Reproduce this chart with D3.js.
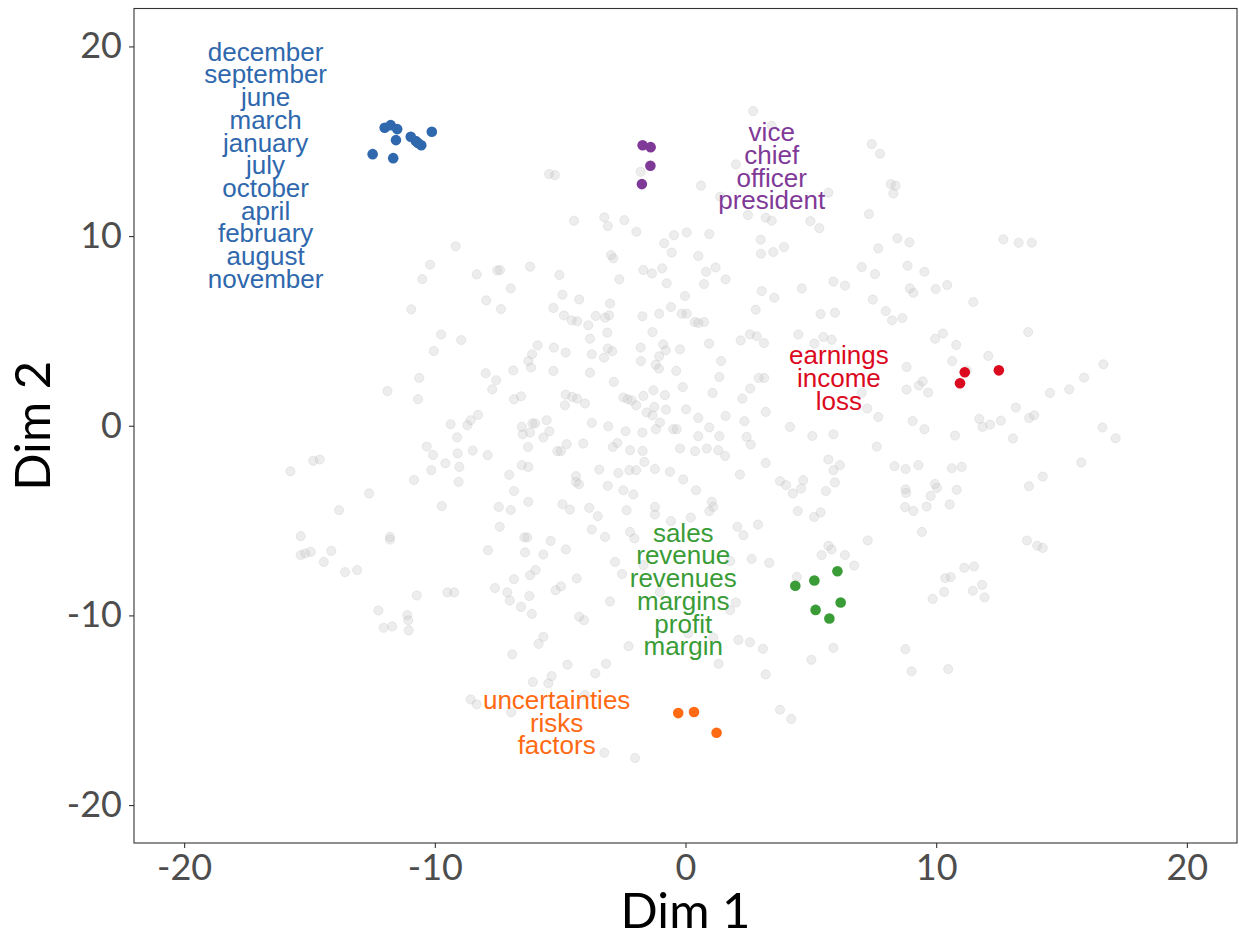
<!DOCTYPE html>
<html>
<head>
<meta charset="utf-8">
<script src="https://cdn.jsdelivr.net/npm/d3@7"></script>
<style>
  html, body { margin: 0; padding: 0; background: #fff; }
</style>
</head>
<body>
<div id="chart"></div>
<script>
// axis ticks
const xTicks = [-20, -10, 0, 10, 20];
const yTicks = [-20, -10, 0, 10, 20];

// background words (grey) in Dim 1 / Dim 2 units
const otherWords = [
  [-9.17,9.46],[-10.19,8.49],[-8.33,7.98],[-7.51,8.19],[-10.50,7.73],[-6.97,7.24],
  [2.70,16.59],[3.44,15.82],[7.43,14.85],[7.76,14.34],[-5.44,13.27],[-5.21,13.21],[-1.79,13.39],[2.01,13.78],
  [0.62,12.66],[5.70,12.29],[1.38,12.08],[-4.45,10.81],[-3.24,10.99],[-3.10,10.53],[-2.44,10.84],[-1.96,10.23],
  [-0.46,10.05],[0.05,10.19],[0.95,10.11],[2.49,11.11],[3.20,10.97],[3.44,10.81],[4.98,10.79],[5.34,10.42],
  [7.32,11.16],[-0.85,9.62],[-0.55,9.13],[0.51,8.95],[3.00,9.81],[3.01,9.07],[3.50,9.16],[3.93,9.42],[7.69,9.35],
  [-2.97,9.00],[-2.88,8.83],[-6.20,8.39],[-5.03,7.95],[-7.40,8.21],[-2.64,7.72],[-1.68,8.21],[-1.34,8.03],
  [-0.93,8.30],[-0.75,7.51],[0.74,7.47],[0.82,8.12],[1.20,8.35],[1.60,7.72],[4.64,7.24],[5.90,7.60],[6.36,7.39],
  [7.03,8.37],[7.56,8.00],[3.04,7.10],
  [8.19,12.74],[8.38,12.66],[8.29,12.25],[8.45,9.88],[8.93,9.67],[12.68,9.83],[13.29,9.65],[13.81,9.65],
  [8.86,8.44],[9.53,8.12],[8.95,7.24],[9.09,7.01],[9.98,7.21],[10.44,7.42],
  [7.47,6.65],[7.99,6.05],[8.24,5.56],[8.65,5.68],[11.48,6.52],[13.67,4.94],[9.96,4.59],[10.27,4.86],[10.80,4.26],
  [12.08,3.68],[10.64,3.41],[8.82,3.10],[11.22,2.92],[16.67,3.24],[15.90,2.54],[15.31,1.92],[14.54,1.73],
  [9.46,2.34],[9.31,2.12],[9.68,1.75],[8.82,1.91],[7.03,1.73],[7.25,0.91],[7.69,0.46],[13.18,0.96],[11.72,0.36],
  [11.85,-0.06],[12.15,0.06],[12.58,0.27],[13.71,0.41],[13.91,0.55],[16.63,-0.09],[17.16,-0.66],[9.06,0.25],
  [9.53,-0.18],[10.75,-0.52],[13.06,-0.67],[7.63,-1.10],[8.34,-2.13],[8.78,-2.28],[9.29,-2.08],[10.62,-2.24],
  [11.02,-2.17],[15.79,-1.94],[14.25,-2.68],[13.70,-3.19],[8.78,-3.35],[8.80,-3.54],[9.95,-3.07],[10.03,-3.28],
  [9.78,-3.70],[10.82,-3.38],[8.76,-4.29],[9.09,-4.49],[9.62,-4.26],[10.54,-4.15],[9.43,-5.60],[7.27,-6.05],
  [13.62,-6.05],[14.03,-6.33],[14.25,-6.44],[11.12,-7.49],[11.51,-7.42],
  [10.36,-8.03],[10.58,-7.98],[10.32,-8.76],[9.86,-9.13],[11.46,-8.70],[11.83,-8.39],[11.93,-9.05],
  [8.77,-11.78],[9.02,-12.95],[10.48,-12.83],
  [-7.95,6.61],[-7.36,6.15],[-10.94,6.14],[-9.75,4.81],[-8.95,4.52],[-10.04,3.94],[-7.97,2.77],[-7.55,2.40],
  [-7.71,1.92],[-6.87,2.92],[-10.62,2.52],[-11.89,1.83],[-10.67,1.40],[-6.84,1.40],[-8.28,0.57],[-8.57,0.29],
  [-8.70,0.03],[-9.37,0.08],[-9.11,-0.61],[-10.32,-1.10],[-10.07,-1.54],[-9.09,-1.46],[-8.49,-1.31],[-7.89,-1.55],
  [-9.58,-1.98],[-9.02,-2.17],[-10.14,-2.34],[-9.05,-2.96],[-10.83,-2.86],[-7.03,-2.59],[-6.84,-3.44],
  [-14.85,-1.85],[-14.59,-1.78],[-15.76,-2.40],[-12.62,-3.57],[-13.82,-4.45],[-9.72,-4.23],[-7.45,-4.28],
  [-6.97,-4.44],[-7.41,-5.33],[-15.35,-5.82],[-11.79,-5.86],[-11.79,-6.00],[-15.35,-6.82],[-15.17,-6.73],
  [-14.95,-6.65],[-14.13,-6.60],[-14.43,-7.18],[-7.88,-6.56],[-13.10,-7.61],[-13.58,-7.72],
  [-10.72,-8.95],[-9.50,-8.79],[-9.23,-8.79],[-7.60,-8.56],[-7.11,-8.79],[-7.01,-9.21],[-6.84,-8.09],
  [-12.25,-9.74],[-11.10,-9.98],[-11.06,-10.26],[-11.04,-10.79],[-12.04,-10.65],[-11.70,-10.58],[-6.91,-12.05],
  [-8.57,-14.43],[-8.33,-14.69],[-6.95,-15.11],
  [-6.20,-7.88],[-5.98,-7.61],[-6.23,-8.98],[-6.56,-9.55],[-6.13,-9.92],[-5.18,-8.67],[-4.97,-8.47],[-4.34,-8.05],
  [-2.53,-7.82],[-2.81,-7.18],[-3.01,-9.26],[-4.24,-10.07],[-4.05,-10.25],[-5.67,-11.13],[-5.86,-11.50],
  [-4.71,-12.60],[-3.60,-13.06],[-3.17,-12.55],[-5.34,-13.20],[-5.47,-13.58],[-6.09,-13.51],[-2.27,-11.62],
  [-1.02,-8.76],[0.11,-10.95],[1.11,-11.16],[1.32,-12.55],[2.11,-11.29],[2.57,-11.42],[3.09,-11.76],[3.20,-13.11],
  [1.78,-7.14],[2.01,-9.32],[1.78,-9.72],[4.44,-7.97],[5.90,-11.71],[5.02,-12.34],[3.77,-14.97],[4.22,-15.46],
  [6.73,-7.37],[3.34,-7.23],[2.64,-7.02],[-4.01,-14.20],[-3.24,-17.24],[-2.01,-17.52],[-1.68,-7.35],
  [-4.91,6.91],[-4.24,6.66],[-5.27,6.21],[-3.01,6.44],[-0.02,6.84],[-0.58,6.26],[-0.15,5.91],[0.05,5.91],
  [-1.05,5.91],[-1.72,5.77],[3.54,6.75],[2.80,6.12],[5.39,5.89],[5.96,5.96],[-4.85,5.82],[-4.54,5.56],
  [-4.32,5.51],[-3.88,5.30],[-3.58,5.79],[-3.21,5.70],[-3.05,5.82],[0.37,5.47],[0.51,5.42],[0.74,5.47],
  [-3.12,4.91],[-1.32,4.94],[-3.81,4.59],[-5.25,4.12],[-5.90,4.24],[-6.12,3.77],[-4.78,3.86],[-3.74,3.77],
  [-3.25,3.59],[-3.10,4.07],[-2.92,3.93],[-1.79,4.12],[-0.89,4.29],[-0.79,3.98],[-0.22,4.03],[-1.05,3.66],
  [-1.78,3.41],[-1.19,3.22],[-1.06,3.01],[0.94,4.33],[2.20,4.50],[2.57,4.82],[2.84,4.72],[3.13,4.36],
  [4.50,4.81],[5.14,4.33],[5.50,4.68],[5.83,4.54],[-6.27,3.41],[-6.16,3.07],[-5.27,2.89],[-3.81,2.80],
  [-2.86,2.31],[-0.37,2.89],[1.42,3.41],[1.35,2.57],[2.92,2.52],[3.14,2.52],[-0.11,2.04],[-1.28,1.87],
  [-1.68,1.57],[-0.82,1.61],[1.08,1.73],[2.27,1.43],[2.58,1.96],[-6.56,1.55],[-4.78,1.64],[-4.52,1.52],
  [-4.32,1.43],[-4.01,1.17],[-4.81,1.08],[-2.48,1.49],[-2.31,1.40],[-2.15,1.34],[-1.97,1.08],[-1.55,0.70],
  [-1.24,0.99],[-1.32,0.55],[-0.78,0.85],[0.02,0.87],[0.51,0.41],[1.60,0.52],[2.35,0.24],[3.20,0.73],
  [4.17,-0.06],[5.06,-0.54],[5.90,-0.45],[-5.54,0.29],[-6.00,0.12],[-6.11,0.12],[-6.53,-0.06],[-6.49,-0.45],
  [-6.20,-0.36],[-5.43,-0.29],[-5.67,-0.62],[-3.74,0.15],[-3.08,-0.03],[-2.39,-0.29],[-1.72,-0.36],[-1.18,-0.18],
  [-1.02,0.17],[-0.49,-0.18],[-0.35,-0.18],[0.95,-0.09],[0.51,-0.55],[1.35,-0.55],[2.44,-0.59],[2.60,-0.99],
  [-6.28,-1.12],[-4.74,-0.97],[-5.11,-1.34],[-4.97,-1.34],[-4.08,-0.94],[-2.90,-1.12],[-2.72,-0.91],[-2.21,-1.29],
  [-1.71,-1.33],[-0.22,-1.20],[0.38,-1.34],[0.85,-1.20],[1.31,-1.29],[1.58,-1.59],[-1.64,-1.91],[3.20,-1.96],
  [5.70,-1.78],[5.90,-2.34],[6.16,-2.08],[-6.53,-2.08],[-6.27,-2.17],[-3.44,-2.31],[-2.68,-2.49],[-2.24,-2.34],
  [-1.97,-2.34],[-1.22,-2.28],[-0.62,-2.43],[2.17,-2.57],[-4.37,-2.66],[-4.37,-2.96],[-4.25,-3.08],[-0.09,-2.83],
  [3.77,-2.92],[4.01,-3.13],[4.28,-3.57],[4.61,-3.31],[4.70,-2.87],[5.96,-2.99],[5.60,-3.44],[-3.10,-3.17],
  [-2.48,-3.40],[-2.08,-3.62],[0.42,-3.40],[-6.27,-4.01],[-4.91,-4.14],[-4.61,-4.42],[-3.84,-4.33],[-3.50,-4.77],
  [-2.35,-4.45],[-1.22,-4.28],[-1.22,-4.68],[1.05,-4.01],[1.11,-4.28],[0.95,-4.50],[0.21,-4.84],[-0.58,-5.03],
  [4.48,-4.50],[5.13,-4.81],[5.39,-4.57],[2.07,-5.33],[2.31,-5.77],[2.89,-5.21],[-3.74,-5.47],[-2.21,-5.60],
  [-2.04,-5.94],[-3.21,-5.86],[-6.43,-5.89],[-6.31,-5.89],[-5.38,-6.07],[-6.40,-6.68],[-5.67,-6.79],[-4.77,-6.52],
  [5.70,-6.33],[5.83,-6.52],[5.43,-6.82],[6.36,-6.82]
];

// highlighted clusters
const monthWords = ["december", "september", "june", "march", "january", "july",
  "october", "april", "february", "august", "november"];
const monthPoints = [[-12.48,14.32],[-12.00,15.71],[-11.76,15.85],[-11.50,15.64],[-11.55,15.06],
  [-10.96,15.24],[-10.76,15.01],[-10.54,14.79],[-10.12,15.50],[-11.66,14.11],[-10.67,14.91]];
const monthLabelAt = [-16.75, 13.72];

const titleWords = ["vice", "chief", "officer", "president"];
const titlePoints = [[-1.71,14.79],[-1.39,14.69],[-1.40,13.71],[-1.74,12.74]];
const titleLabelAt = [3.44, 13.67];

const earningsWords = ["earnings", "income", "loss"];
const earningsPoints = [[11.14,2.82],[10.95,2.24],[12.50,2.92]];
const earningsLabelAt = [6.12, 2.50];

const salesWords = ["sales", "revenue", "revenues", "margins", "profit", "margin"];
const salesPoints = [[4.38,-8.44],[5.14,-8.16],[6.06,-7.67],[6.19,-9.32],[5.19,-9.71],[5.74,-10.16]];
const salesLabelAt = [-0.09, -8.65];

const riskWords = ["uncertainties", "risks", "factors"];
const riskPoints = [[-0.29,-15.15],[0.34,-15.09],[1.24,-16.19]];
const riskLabelAt = [-5.14, -15.67];

const clusters = [
  { words: monthWords, points: monthPoints, at: monthLabelAt, color: "#2f68ad" },
  { words: titleWords, points: titlePoints, at: titleLabelAt, color: "#7f3a98" },
  { words: earningsWords, points: earningsPoints, at: earningsLabelAt, color: "#db0a1e" },
  { words: salesWords, points: salesPoints, at: salesLabelAt, color: "#3a9c37" },
  { words: riskWords, points: riskPoints, at: riskLabelAt, color: "#ff6a12" },
];

const width = 1239, height = 938;
const panel = { left: 134, right: 1237, top: 8.5, bottom: 843 };
const tickFont = "Lato, 'Open Sans', sans-serif";

const svg = d3.select("#chart")
  .append("svg")
  .attr("width", width)
  .attr("height", height)
  .style("display", "block")
  .style("background", "#fff");

const x = d3.scaleLinear().domain([-22, 22]).range([panel.left, panel.right]);
const y = d3.scaleLinear().domain([-22, 22]).range([panel.bottom, panel.top]);

// background points
svg.append("g")
  .selectAll("circle")
  .data(otherWords)
  .join("circle")
  .attr("cx", d => x(d[0]))
  .attr("cy", d => y(d[1]))
  .attr("r", 4.6)
  .attr("fill", "#bebebe")
  .attr("fill-opacity", 0.28)
  .attr("stroke", "#bebebe")
  .attr("stroke-opacity", 0.28)
  .attr("stroke-width", 1);

// coloured clusters
const groups = svg.append("g")
  .selectAll("g")
  .data(clusters)
  .join("g");

groups.selectAll("circle")
  .data(c => c.points.map(p => ({ p, color: c.color })))
  .join("circle")
  .attr("cx", d => x(d.p[0]))
  .attr("cy", d => y(d.p[1]))
  .attr("r", 5.3)
  .attr("fill", d => d.color);

// multi-line labels, centred on their anchor (tight line spacing as in the original)
const lineGap = 22.7;
groups.append("text")
  .attr("fill", c => c.color)
  .attr("text-anchor", "middle")
  .style("font-family", "'Liberation Sans', Arial, sans-serif")
  .style("font-size", "26px")
  .each(function (c) {
    const t = d3.select(this);
    const n = c.words.length;
    c.words.forEach((w, i) => {
      t.append("tspan")
        .attr("x", x(c.at[0]))
        .attr("y", y(c.at[1]) + (i - (n - 1) / 2) * lineGap + 8.7)
        .text(w);
    });
  });

// panel border
svg.append("rect")
  .attr("x", panel.left)
  .attr("y", panel.top)
  .attr("width", panel.right - panel.left)
  .attr("height", panel.bottom - panel.top)
  .attr("fill", "none")
  .attr("stroke", "#333")
  .attr("stroke-width", 1.1);

// axes
const xAxis = svg.append("g")
  .attr("transform", `translate(0,${panel.bottom})`)
  .call(d3.axisBottom(x).tickValues(xTicks).tickSize(5).tickPadding(6).tickFormat(d => String(d)));

const yAxis = svg.append("g")
  .attr("transform", `translate(${panel.left},0)`)
  .call(d3.axisLeft(y).tickValues(yTicks).tickSize(5).tickPadding(7).tickFormat(d => String(d)));

[xAxis, yAxis].forEach(a => {
  a.select(".domain").remove();
  a.selectAll(".tick line").attr("stroke", "#333").attr("stroke-width", 1.1);
  a.selectAll(".tick text")
    .attr("fill", "#4d4d4d")
    .style("font-family", tickFont)
    .style("font-size", "36px");
});

// axis titles
svg.append("text")
  .attr("x", x(0))
  .attr("y", 928)
  .attr("text-anchor", "middle")
  .style("font-family", tickFont)
  .style("font-size", "49px")
  .attr("fill", "#000")
  .text("Dim 1");

svg.append("text")
  .attr("transform", `translate(50,${y(0)}) rotate(-90)`)
  .attr("text-anchor", "middle")
  .style("font-family", tickFont)
  .style("font-size", "49px")
  .attr("fill", "#000")
  .text("Dim 2");
</script>
</body>
</html>
